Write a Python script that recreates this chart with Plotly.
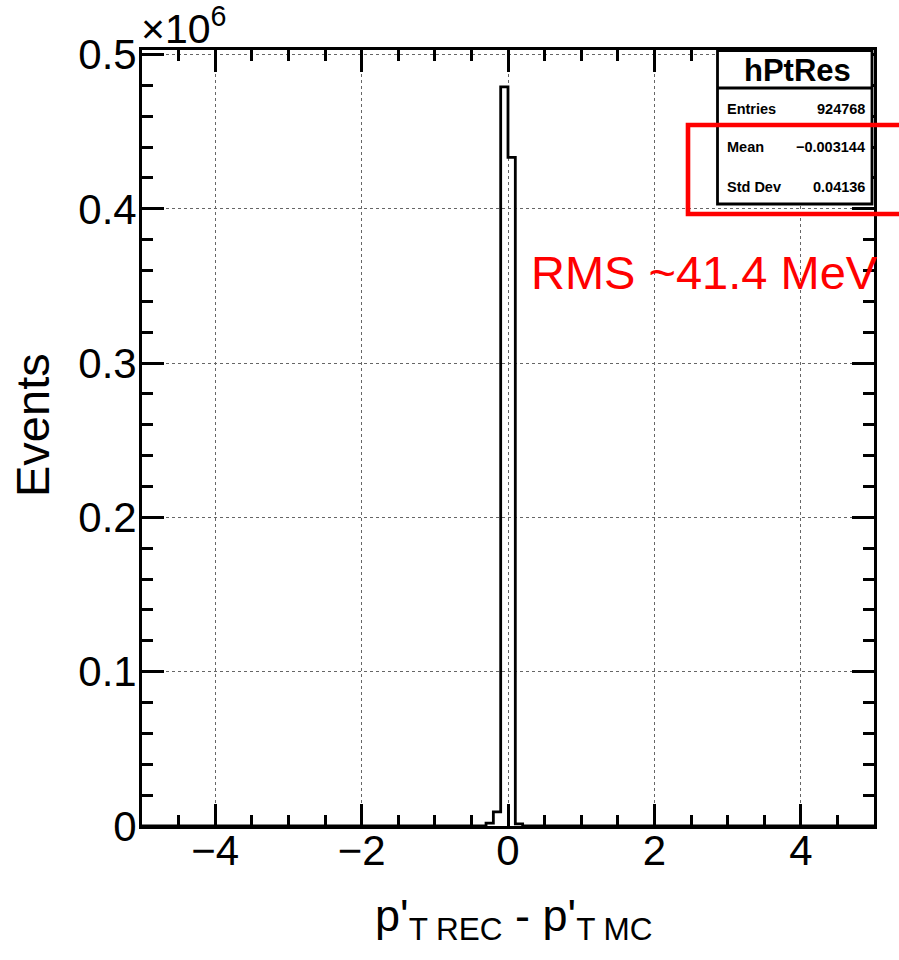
import numpy as np
import plotly.graph_objects as go

# Histogram hPtRes: 100 bins on [-5, 5]; only the bins listed below are filled
bin_lo = -5.0
bin_hi = 5.0
n_bins = 100
filled_bin_low_edges = [-0.3, -0.2, -0.1, 0.0, 0.1]
filled_bin_counts = [1800, 9200, 479000, 433400, 1368]

# Stats box contents
stats_title = "hPtRes"
stats_labels = ["Entries", "Mean", "Std Dev"]
stats_values = ["924768", "\u22120.003144", "0.04136"]

# Axis ticks
x_tickvals = [-4, -2, 0, 2, 4]
x_ticktext = ["\u22124", "\u22122", "0", "2", "4"]
y_tickvals = [0, 100000, 200000, 300000, 400000, 500000]
y_ticktext = ["0", "0.1", "0.2", "0.3", "0.4", "0.5"]

note_text = "RMS ~41.4 MeV"

# ---- build the step outline of the histogram ----
edges = np.linspace(bin_lo, bin_hi, n_bins + 1)
counts = np.zeros(n_bins)
for lo, c in zip(filled_bin_low_edges, filled_bin_counts):
    idx = int(round((lo - bin_lo) / (bin_hi - bin_lo) * n_bins))
    counts[idx] = c
step_y = np.append(counts, counts[-1])

W, H = 899, 960
L, R, T, B = 142, 874, 50, 826  # plot-area frame in pixels


def px(x):
    return (x - L) / (R - L)


def py(y):
    return (B - y) / (B - T)


FONT = "Liberation Sans, Arial, Helvetica, sans-serif"

fig = go.Figure()
fig.add_trace(go.Scatter(
    x=edges, y=step_y, mode="lines", line_shape="hv",
    line=dict(color="black", width=2.8), hoverinfo="skip", showlegend=False,
))

axis_common = dict(
    showline=True, linecolor="black", linewidth=2.8, mirror="ticks",
    ticks="inside", ticklen=22, tickwidth=2.5, tickcolor="black",
    showgrid=True, gridcolor="#666666", griddash="dot", gridwidth=1,
    zeroline=False,
    tickfont=dict(family=FONT, size=42, color="black"),
)

fig.update_xaxes(
    range=[bin_lo, bin_hi], tickvals=x_tickvals, ticktext=x_ticktext,
    minor=dict(ticks="inside", ticklen=11, tickwidth=2.5, tickcolor="black",
               dtick=0.5, showgrid=False),
    ticklabelstandoff=-14,
    **axis_common,
)
fig.update_yaxes(
    range=[0, 1.05 * max(filled_bin_counts)],
    tickvals=y_tickvals, ticktext=y_ticktext,
    minor=dict(ticks="inside", ticklen=11, tickwidth=2.5, tickcolor="black",
               tick0=0, dtick=20000, showgrid=False),
    ticklabelstandoff=-6,
    **axis_common,
)

shapes = [
    # stats box
    dict(type="rect", xref="paper", yref="paper",
         x0=px(717.5), x1=px(872), y0=py(204), y1=py(50.5),
         line=dict(color="black", width=2.8), fillcolor="white", layer="above"),
    dict(type="line", xref="paper", yref="paper",
         x0=px(717.5), x1=px(872), y0=py(88), y1=py(88),
         line=dict(color="black", width=2.8), layer="above"),
    # red highlight frame
    dict(type="rect", xref="paper", yref="paper",
         x0=px(688), x1=px(910), y0=py(214), y1=py(125),
         line=dict(color="#ff0000", width=4.6), layer="above"),
]

annotations = [
    dict(text=stats_title, x=px(797), y=py(70), xref="paper", yref="paper",
         showarrow=False, xanchor="center", yanchor="middle",
         font=dict(family=FONT, size=31, color="black", weight="bold")),
    dict(text="\u00d710<sup>6</sup>", x=px(139), y=py(54), xref="paper", yref="paper",
         showarrow=False, xanchor="left", yanchor="bottom",
         font=dict(family=FONT, size=41, color="black")),
    dict(text="Events", x=px(33), y=py(425), xref="paper", yref="paper",
         showarrow=False, xanchor="center", yanchor="middle", textangle=-90,
         font=dict(family=FONT, size=47, color="black")),
    dict(text="p'<sub>T REC</sub> - p'<sub>T MC</sub>", x=px(514), y=py(918),
         xref="paper", yref="paper", showarrow=False,
         xanchor="center", yanchor="middle",
         font=dict(family=FONT, size=45, color="black")),
    dict(text=note_text, x=px(529), y=py(272), xref="paper", yref="paper",
         showarrow=False, xanchor="left", yanchor="middle",
         font=dict(family=FONT, size=47, color="#ff0000")),
]
row_y = [109, 147, 187]
for lab, val, yy in zip(stats_labels, stats_values, row_y):
    annotations.append(dict(text=lab, x=px(725), y=py(yy), xref="paper", yref="paper",
                            showarrow=False, xanchor="left", yanchor="middle",
                            font=dict(family=FONT, size=14.5, color="black", weight="bold")))
    annotations.append(dict(text=val, x=px(867), y=py(yy), xref="paper", yref="paper",
                            showarrow=False, xanchor="right", yanchor="middle",
                            font=dict(family=FONT, size=14.5, color="black", weight="bold")))

fig.update_layout(
    width=W, height=H,
    margin=dict(l=L, r=W - R, t=T, b=H - B),
    paper_bgcolor="white", plot_bgcolor="white",
    shapes=shapes, annotations=annotations,
    font=dict(family=FONT),
)

fig.write_html("out.html")
